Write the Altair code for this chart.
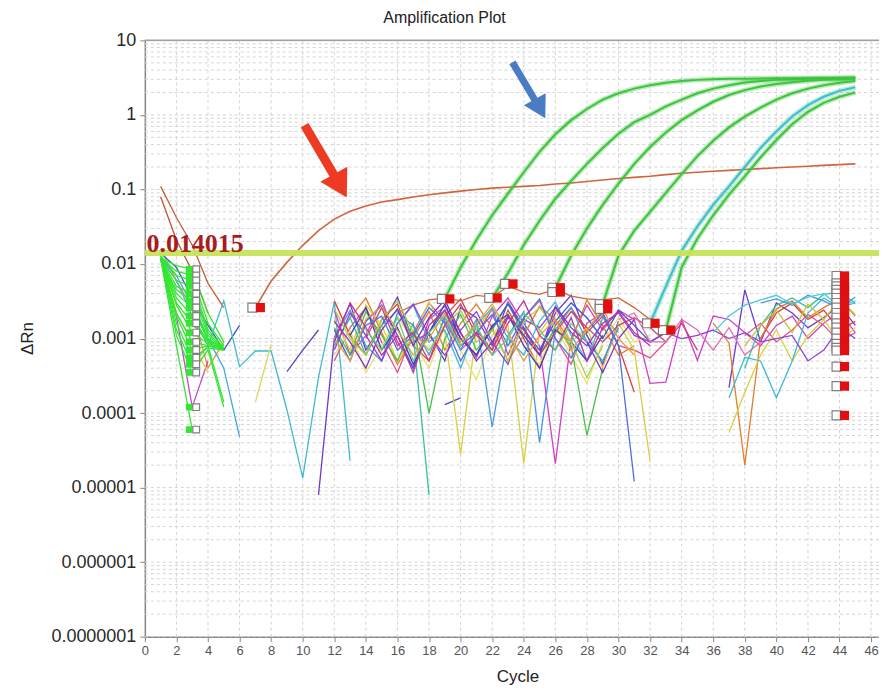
import altair as alt
import pandas as pd

# ---------------- axes / reference values ----------------
CYCLE_TICKS = list(range(0, 47, 2))
DECADES = [1e-7, 1e-6, 1e-5, 1e-4, 1e-3, 1e-2, 1e-1, 1, 10]
THRESHOLD = 0.014015
THRESHOLD_LABEL = "0.014015"

# ---------------- amplification curves (ΔRn, start cycle) ----------------
AMP1_START, AMP1 = 19, [0.0034, 0.009, 0.021, 0.045, 0.088, 0.17, 0.32, 0.55, 0.85, 1.2, 1.6, 1.95, 2.25, 2.5,
                        2.7, 2.85, 2.95, 3.0, 3.05, 3.05, 3.08, 3.1, 3.1, 3.1, 3.12, 3.12, 3.15]
AMP2_START, AMP2 = 22, [0.0035, 0.0075, 0.018, 0.038, 0.075, 0.13, 0.22, 0.36, 0.56, 0.8, 1.0, 1.3, 1.6, 1.95,
                        2.25, 2.5, 2.72, 2.85, 2.95, 3.0, 3.05, 3.08, 3.1, 3.12]
AMP3_START, AMP3 = 26, [0.0048, 0.013, 0.03, 0.062, 0.12, 0.22, 0.37, 0.58, 0.85, 1.15, 1.5, 1.85, 2.15, 2.4,
                        2.6, 2.75, 2.87, 2.95, 3.0, 3.05]
AMP4_START, AMP4 = 29, [0.0029, 0.013, 0.028, 0.05, 0.09, 0.16, 0.28, 0.45, 0.68, 0.95, 1.25, 1.6, 1.95, 2.25,
                        2.5, 2.7, 2.85]
AMP5A_START, AMP5A = 32, [0.0016, 0.005, 0.015, 0.032, 0.062, 0.11, 0.2, 0.36, 0.6, 0.95, 1.35, 1.75, 2.1, 2.35]
AMP5B_START, AMP5B = 33, [0.0013, 0.009, 0.022, 0.045, 0.085, 0.15, 0.27, 0.46, 0.75, 1.1, 1.45, 1.75, 2.0]
RED_START, RED = 7, [0.0026, 0.0059, 0.0105, 0.0178, 0.028, 0.040, 0.051, 0.060, 0.068, 0.073, 0.079, 0.085,
                     0.09, 0.095, 0.1, 0.104, 0.107, 0.11, 0.113, 0.118, 0.122, 0.128, 0.134, 0.14, 0.145,
                     0.15, 0.158, 0.165, 0.17, 0.175, 0.18, 0.185, 0.19, 0.195, 0.2, 0.205, 0.21, 0.215, 0.22]

# ---------------- baseline noise (values in units of 1e-3 ΔRn) ----------------
E1 = [110, 42, 18, 5.5, 2.6]
E2 = [80, 21, 8.0, 2.2]
E3 = [16, 6.0, 2.5, 0.4, 0.9]
E4 = [12, 2.0, 0.12, 0.5]
E5 = [13, 2.2, 0.9, 0.35]
E6 = [14, 9.0, 3.5, 1.5, 0.7, 1.5]
E7 = [12, 6.0, 2.0, 0.8, 3.2, 0.42, 0.68, 0.68, 0.11, 0.0135, 0.3, 3.1, 0.023]
E8 = [12, 7.0, 2.8, 1.0, 0.4, 0.048]
E9 = [0.14, 0.83]
E10 = [0.36, 0.7, 1.3]
S1 = [0.13, 0.16]
F01 = [12, 9.5, 8.5, 2.2, 0.9]
F02 = [12, 8.0, 7.0, 1.6, 0.8]
F03 = [13, 7.0, 6.0, 1.3, 0.75]
F04 = [12, 6.0, 5.0, 1.2, 0.72]
F05 = [12, 5.0, 4.0, 1.1, 0.7]
F06 = [11, 4.5, 3.2, 1.0, 0.7]
F07 = [12, 4.0, 2.6, 0.95, 0.75]
F08 = [12, 3.5, 2.0, 0.9, 0.8]
F09 = [12, 3.0, 1.6, 0.9, 0.7]
F10 = [13, 2.8, 1.2, 0.85, 0.75]
F11 = [12, 2.2, 0.9, 0.8, 0.14]
F12 = [12, 2.0, 0.7, 0.8, 0.7]
F13 = [12, 1.6, 0.55, 0.75, 0.7]
F14 = [12, 1.3, 0.45, 0.8, 0.75]
F15 = [12, 1.1, 0.35, 0.7, 0.12]
F16 = [12, 0.8, 0.06]
N01 = [0.008, 1.0, 2.9, 0.7, 1.5, 3.6, 0.9, 1.2, 0.5, 2.6, 1.9, 0.8, 3.1, 1.4, 0.6, 2.2, 3.8, 1.1, 0.45, 1.7,
       None, None, None, None, None, None, 0.22, 4.5, 0.9, 3.0, 2.2, 1.4, 1.9, 2.8, 1.5]
N02 = [2.4, 0.6, 1.1, 3.3, 0.9, 0.4, 1.8, 2.7, 1.2, 0.55, 2.0, 3.5, 1.6, 0.8, 0.021, 1.0, 2.8, 1.3, 2.4, 1.8,
       0.25, 0.26, 1.8, 0.51, 2.0, 1.8, 1.2, 0.8, 1.5, 2.0, 1.0, 1.6, 2.3, 1.2]
N03 = [0.5, 1.4, 2.6, 0.9, 0.35, 1.2, 3.0, 1.7, 0.7, 1.1, 2.5, 0.6, 1.9, 3.2, 1.0, 0.45, 1.6, 2.2, 0.8, 0.7,
       0.55, 0.9, None, None, None, None, 1.1, 1.6, 0.9, 1.3, 2.1, 1.5, 0.9, 1.2]
N04 = [3.2, 1.1, 0.6, 1.8, 2.9, 0.8, 0.5, 2.0, 3.4, 1.3, 0.7, 2.4, 1.0, 0.4, 1.5, 2.6, 1.2, 2.0, 0.8, 0.19,
       None, None, None, None, None, None, None, 1.0, 2.2, 3.0, 1.8, 2.4, 1.3, 1.7]
N05 = [0.8, 1.9, 3.5, 1.2, 0.45, 1.0, 2.3, 0.7, 1.6, 2.9, 1.4, 0.5, 1.1, 2.7, 1.8, 0.9, 3.3, 1.5, 0.6, 0.8,
       None, None, None, None, 1.6, 0.88, 0.02, 1.0, 2.5, 3.2, 1.9, 2.6, 3.4, 2.0]
N06 = [2.2, 2.8, 3.3, 3.5, 3.2, 3.8, 3.6, 5.0, 4.2, 3.9, 4.6, 3.7, 3.4, 3.3, 3.5, 2.6, 1.8, 1.3]
N07 = [1.8, 0.7, 2.8, 1.5, 0.5, 1.1, 3.1, 1.2, 0.028, 1.3, 2.6, 1.5, 0.021, 1.2, 2.4, 0.9, 1.4, 0.4, 1.6, 0.7,
       0.023, None, None, None, None, 0.055, 0.19, 0.6, 1.3, 0.5, 1.1, 1.8, 0.9, 1.4]
N08 = [0.6, 1.3, 0.35, 0.8, 2.0, 0.9, 0.4, 1.5, 0.7, 0.28, 1.1, 2.2, 0.8, 0.45, 1.4, 0.6, 0.25, 0.9, 1.9, 0.9,
       1.1]
N09 = [1.4, 0.6, 2.3, 1.1, 0.5, 1.6, 0.1, 1.0, 2.1, 0.7, 1.3, 3.0, 1.1, 0.6, 1.4, 0.8, 0.05, 0.4]
N10 = [0.8, 1.9, 0.6, 1.5, 2.4, 1.1, 0.008]
N10B = [0.4, 1.5, 2.8, 3.5, 2.6, 3.9, 4.2, 3.0]
N11 = [0.5, 1.6, 2.8, 0.9, 1.3, 0.4, 1.5, 2.6, 1.0, 0.6, 1.7, 3.1, 1.1, 0.5, 1.9, 1.2,
       None, None, None, None, None, None, 0.16, 0.56, 0.5, 0.16, 0.5, 2.2, 3.5, 2.6, 3.0]
N12 = [1.0, 2.4, 0.8, 0.5, 2.2, 1.5, 0.6, 1.9, 0.7, 1.8, 0.065, 1.1, 2.3, 0.04, 1.3, 2.6, 0.9, 0.5, 1.4,
       None, None, None, None, None, None, None, None, 3.0, 3.4, 2.8, 3.8, 3.2, 2.5, 3.6]
N13 = [1.3, 0.5, 1.7, 2.8, 1.1, 0.4, 1.2, 2.4, 1.0, 0.6, 1.4, 2.9, 1.3, 0.7, 1.7, 3.0, 1.9, 1.0, 2.4, 1.5,
       0.9, 1.2]
N14 = [0.7, 2.2, 1.1, 0.5, 1.6, 2.9, 1.1, 0.6, 1.3, 2.3, 0.9, 0.45, 1.8, 1.4, 2.6, 1.2, 0.8, 1.6, 2.2, 1.1,
       0.9, 1.2, 1.0, 1.1, 1.3, 1.0, 1.2, 0.9, 1.0, 1.1, 0.5, 0.7, 1.4, 1.0]
N15 = [1.1, 2.6, 0.7, 1.4, 0.45, 1.2, 2.9, 1.0, 0.6, 1.5, 2.1, 0.8, 0.4, 1.3, 0.9, 0.5, 1.1]
N16 = [2.5, 1.0, 0.6, 1.8, 3.2, 1.2, 0.7, 1.5, 2.4, 0.9, 1.3, 0.5, 1.7, 2.6, 1.4, 0.9, 0.3, 0.8]
N17 = [1.0, 2.6, 0.8, 1.2, 0.5, 1.5, 2.9, 1.1, 0.7, 1.9, 1.3, 0.6, 1.2, 2.3, 1.4, 0.9, 1.5, 1.9, 1.4, 0.9,
       1.6, 0.7]
N18 = [1.2, 2.0, 2.8, 3.3, 3.8, 2.9, 3.6, 4.0, 2.7, 3.2]
N19 = [1.7, 0.9, 0.4, 1.3, 2.5, 0.8, 1.9, 3.3, 1.2, 0.5, 0.9, 2.0, 1.1, 0.6, 2.7, 1.4, 0.9, 0.35, 1.0, 1.8]
N20 = [0.6, 1.5, 2.0, 0.7, 1.1, 2.6, 1.6, 0.5, 1.2, 2.1, 0.8, 1.9, 3.4, 1.0, 0.55, 1.3, 2.2, 0.8, 0.012]
N21 = [1.0, 0.5, 1.8, 2.7, 1.3, 0.6, 1.0, 2.2, 0.9, 1.6, 2.9, 1.2, 0.5, 1.1, 1.8, 0.7, 1.3, 2.5, 1.0, 0.6]
N22 = [0.9, 3.0, 1.4, 0.6, 1.1, 0.35, 1.5, 2.4, 0.8, 1.2, 0.6, 1.6, 3.2, 1.1, 0.7, 1.9, 0.5, 1.4, 2.3, 1.2, 0.8]
N23 = [1.3, 0.7, 1.9, 0.5, 1.2, 2.0, 0.8, 1.5, 0.6, 1.0, 2.2, 1.3, 0.7, 1.6, 0.9]
N24 = [0.8, 1.5, 2.4, 1.2, 2.9, 1.8, 3.3, 2.1]
N25 = [1.8, 2.2, 0.9, 0.9, 1.8, 1.3, 0.7, 1.4, 0.6, 0.9]

NOISE_SPECS = [
    ("E1", "#c0603c", 1, E1), ("E2", "#b85838", 1, E2), ("E3", "#e09838", 1, E3),
    ("E4", "#c848c8", 1, E4), ("E5", "#e0d048", 1, E5), ("E6", "#3858c8", 1, E6),
    ("E7", "#40b8d8", 1, E7), ("E8", "#3ca8e0", 1, E8), ("E9", "#d8d860", 7, E9),
    ("E10", "#6040c0", 9, E10), ("S1", "#4050c8", 19, S1),
    ("N01", "#6a3cc8", 11, N01), ("N02", "#d040c8", 12, N02), ("N03", "#e05090", 12, N03),
    ("N04", "#d84040", 12, N04), ("N05", "#e08028", 12, N05), ("N06", "#c86a3c", 16, N06),
    ("N07", "#d8d040", 12, N07), ("N08", "#e8e070", 12, N08), ("N09", "#48c048", 12, N09),
    ("N10", "#38c0a0", 12, N10), ("N10B", "#38c0a0", 38, N10B), ("N11", "#40b8d8", 15, N11),
    ("N12", "#4898e0", 12, N12), ("N13", "#3858d0", 12, N13), ("N14", "#9040d8", 12, N14),
    ("N15", "#4a3cb0", 13, N15), ("N16", "#a8d040", 12, N16), ("N17", "#c84070", 14, N17),
    ("N18", "#50c8e0", 36, N18), ("N19", "#8030c0", 12, N19), ("N20", "#5070e0", 13, N20),
    ("N21", "#e8a040", 12, N21), ("N22", "#c030a0", 12, N22), ("N23", "#60d080", 14, N23),
    ("N24", "#c8c030", 38, N24), ("N25", "#e070b0", 30, N25),
]
FAN = [F01, F02, F03, F04, F05, F06, F07, F08, F09, F10, F11, F12, F13, F14, F15, F16]

# ---------------- well markers ----------------
START_MARK_CYCLE = 3
START_MARKS = [8.5, 7.0, 6.0, 5.0, 4.0, 3.2, 2.6, 2.0, 1.6, 1.2, 0.9, 0.7, 0.55, 0.45, 0.35, 0.12, 0.06]
END_MARK_CYCLES = [7, 19, 22, 23, 26, 26, 29, 29, 32, 33]
END_MARK_VALUES = [2.6, 3.4, 3.5, 5.4, 4.8, 4.2, 2.9, 2.5, 1.6, 1.3]
RIGHT_MARK_CYCLE = 44
RIGHT_MARKS = [6.9, 5.5, 5.0, 4.5, 4.0, 3.5, 3.0, 2.6, 2.2, 1.9, 1.6, 1.4, 1.2, 1.0, 0.85, 0.75, 0.69,
               0.42, 0.23, 0.093]

# ---------------- annotation arrows (cycle, ΔRn) ----------------
ARROW_TAIL_X = [10.12, 23.28]
ARROW_TAIL_Y = [0.726, 5.07]
ARROW_HEAD_X = [12.38, 25.03]
ARROW_HEAD_Y = [0.1116, 1.21]
ARROW_COLORS = ["#ee3a22", "#4a7cc4"]
ARROW_WIDTHS = [9, 7]
ARROW_HEAD_SIZES = [950, 620]

# ---------------- build tables ----------------
MILLI = 1e-3


def series_rows(name, color, start, vals, unit):
    rows, seg = [], 0
    for i, v in enumerate(vals):
        if v is None:
            seg += 1
            continue
        rows.append({"key": f"{name}-{seg}", "color": color, "cycle": start + i, "value": v * unit})
    return rows


noise_rows = []
for name, color, start, vals in NOISE_SPECS:
    noise_rows += series_rows(name, color, start, vals, MILLI)
for i, vals in enumerate(FAN):
    noise_rows += series_rows(f"F{i}", "#33e633", 1, vals, MILLI)
noise_df = pd.DataFrame(noise_rows)

amp_rows = []
for name, color, start, vals in [("A1", "#3cc43c", AMP1_START, AMP1), ("A2", "#3cc43c", AMP2_START, AMP2),
                                 ("A3", "#3cc43c", AMP3_START, AMP3), ("A4", "#3cc43c", AMP4_START, AMP4),
                                 ("A5a", "#3cc0c0", AMP5A_START, AMP5A), ("A5b", "#3cc43c", AMP5B_START, AMP5B)]:
    amp_rows += series_rows(name, color, start, vals, 1.0)
amp_df = pd.DataFrame(amp_rows)
red_df = pd.DataFrame(series_rows("RED", "#d2643c", RED_START, RED, 1.0))

start_df = pd.DataFrame({"cycle": [START_MARK_CYCLE] * len(START_MARKS),
                         "value": [v * MILLI for v in START_MARKS]})
end_df = pd.DataFrame({"cycle": END_MARK_CYCLES + [RIGHT_MARK_CYCLE] * len(RIGHT_MARKS),
                       "value": [v * MILLI for v in END_MARK_VALUES + RIGHT_MARKS]})

minor_vals = [k * d for d in DECADES[:-1] for k in range(1, 10)]
ygrid_df = pd.DataFrame({"value": minor_vals})
xgrid_df = pd.DataFrame({"cycle": CYCLE_TICKS[1:]})
top_df = pd.DataFrame({"value": [DECADES[-1]]})
thr_df = pd.DataFrame({"value": [THRESHOLD], "cycle": [0.1], "label": [THRESHOLD_LABEL]})
arrow_df = pd.DataFrame({"x1": ARROW_TAIL_X, "y1": ARROW_TAIL_Y, "x2": ARROW_HEAD_X, "y2": ARROW_HEAD_Y,
                         "color": ARROW_COLORS, "w": ARROW_WIDTHS, "s": ARROW_HEAD_SIZES})

# ---------------- scales / encodings ----------------
XS = alt.Scale(domain=[0, 46.5], nice=False, zero=False)
YS = alt.Scale(type="log", domain=[1e-7, 10], nice=False)
FONT = "Liberation Sans"

X_AXIS = alt.Axis(values=CYCLE_TICKS, format="d", grid=False, tickSize=5, tickColor="#888",
                  domainColor="#888", domainWidth=1.5, labelFont=FONT, labelFontSize=13,
                  labelColor="#555", labelFlush=False, labelPadding=3, title="Cycle",
                  titleFont=FONT, titleFontSize=17, titleFontWeight="normal", titleColor="#222",
                  titleX=373, titleY=45, titleBaseline="alphabetic", titleAlign="center")
Y_AXIS = alt.Axis(values=DECADES, grid=False, tickSize=5, tickColor="#888", domainColor="#888",
                  domainWidth=1.5, labelFont=FONT, labelFontSize=18, labelColor="#2a2a2a",
                  labelPadding=4,
                  labelExpr="datum.value >= 1 ? format(datum.value, 'd') : "
                            "format(datum.value, '.' + round(-log(datum.value) / LN10) + 'f')",
                  title="ΔRn", titleFont=FONT, titleFontSize=17, titleFontWeight="normal",
                  titleColor="#222", titleX=-117, titleY=298, titleAlign="center",
                  titleBaseline="middle")


def X(field="cycle"):
    return alt.X(f"{field}:Q", scale=XS, axis=X_AXIS, title="Cycle")


def Y(field="value"):
    return alt.Y(f"{field}:Q", scale=YS, axis=Y_AXIS, title="ΔRn")


ygrid = alt.Chart(ygrid_df).mark_rule(color="#d4d4d4", strokeDash=[3, 3], strokeWidth=1).encode(
    y=Y("value"))
xgrid = alt.Chart(xgrid_df).mark_rule(color="#d4d4d4", strokeDash=[3, 3], strokeWidth=1).encode(
    x=X("cycle"))
top = alt.Chart(top_df).mark_rule(color="#a0a0a0", strokeWidth=1.5).encode(y=Y("value"))

noise = alt.Chart(noise_df).mark_line(strokeWidth=1.3, clip=True).encode(
    x=X(), y=Y(), detail="key:N", color=alt.Color("color:N", scale=None), order="cycle:Q")

red = alt.Chart(red_df).mark_line(strokeWidth=1.6, clip=True).encode(
    x=X(), y=Y(), detail="key:N", color=alt.Color("color:N", scale=None), order="cycle:Q")

amp_halo = alt.Chart(amp_df).mark_line(strokeWidth=5, opacity=0.35, clip=True).encode(
    x=X(), y=Y(), detail="key:N", color=alt.Color("color:N", scale=None), order="cycle:Q")
amp = alt.Chart(amp_df).mark_line(strokeWidth=2, clip=True).encode(
    x=X(), y=Y(), detail="key:N", color=alt.Color("color:N", scale=None), order="cycle:Q")

thr = alt.Chart(thr_df).mark_rule(color="#c6e35a", strokeWidth=6, opacity=0.95).encode(y=Y("value"))
thr_label = alt.Chart(thr_df).mark_text(align="left", baseline="alphabetic", dy=-1,
                                        font="Liberation Serif", fontWeight="bold", fontSize=26,
                                        color="#a81c1c").encode(x=X(), y=Y(), text="label:N")

start_fill = alt.Chart(start_df).mark_square(size=45, filled=True, color="#33e633", opacity=1,
                                             xOffset=-3).encode(x=X(), y=Y())
start_box = alt.Chart(start_df).mark_square(size=45, filled=True, fill="white", stroke="#808080",
                                            strokeWidth=1.2, opacity=1, xOffset=4).encode(x=X(), y=Y())
end_box = alt.Chart(end_df).mark_square(size=80, filled=True, fill="white", stroke="#808080",
                                        strokeWidth=1.2, opacity=1, xOffset=-3).encode(x=X(), y=Y())
end_fill = alt.Chart(end_df).mark_square(size=85, filled=True, color="#e01010", opacity=1,
                                         xOffset=5).encode(x=X(), y=Y())

arrow_shaft = alt.Chart(arrow_df).mark_rule().encode(
    x=X("x1"), y=Y("y1"), x2="x2:Q", y2="y2:Q",
    color=alt.Color("color:N", scale=None), strokeWidth=alt.StrokeWidth("w:Q", scale=None))
arrow_head = alt.Chart(arrow_df).mark_point(shape="triangle-down", filled=True, opacity=1,
                                            angle=331).encode(
    x=X("x2"), y=Y("y2"), color=alt.Color("color:N", scale=None),
    size=alt.Size("s:Q", scale=None))

title = alt.Chart(pd.DataFrame({"t": ["Amplification Plot"]})).mark_text(
    font=FONT, fontSize=16, color="#222", align="center", baseline="middle").encode(
    x=alt.value(300), y=alt.value(-22), text="t:N")

chart = alt.layer(
    ygrid, xgrid, top, noise, red, amp_halo, amp, thr, start_fill, start_box, end_box, end_fill,
    thr_label, arrow_shaft, arrow_head, title
).properties(
    width=735, height=597,
    autosize=alt.AutoSizeParams(type="none"),
    padding={"left": 137, "top": 32, "right": 0, "bottom": 54},
).configure_view(strokeWidth=0).configure(background="white")

chart.save("out.html", embed_options={"renderer": "svg", "actions": False})
